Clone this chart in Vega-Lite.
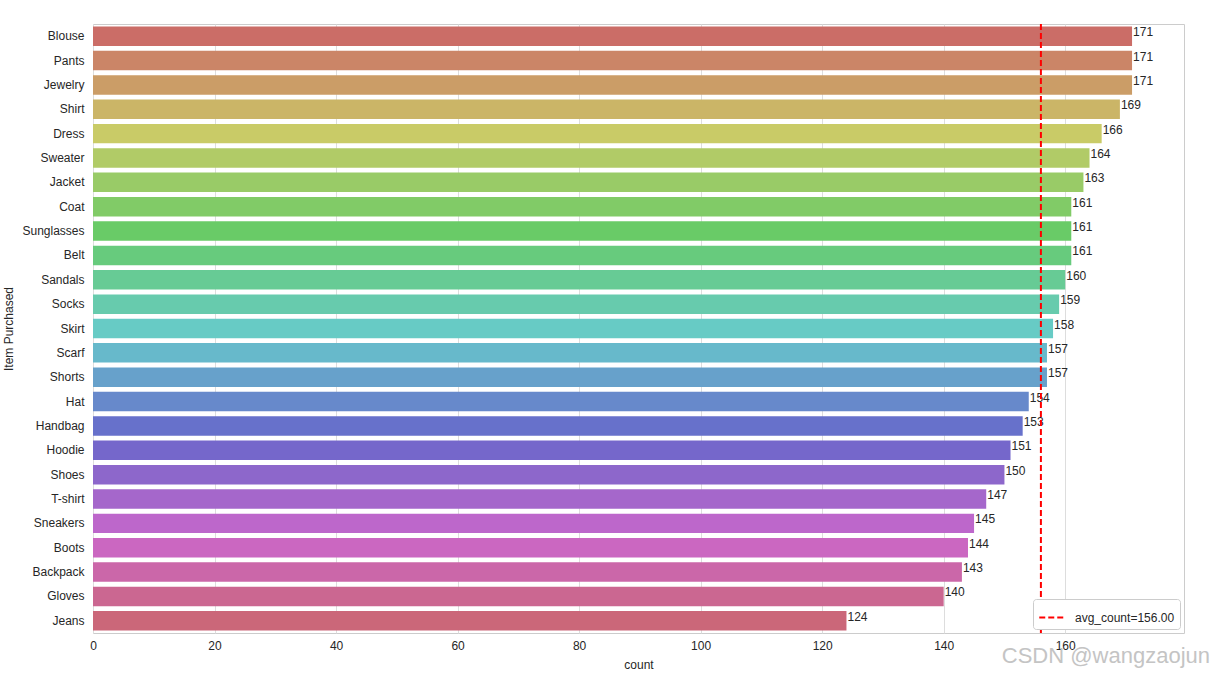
{
  "$schema": "https://vega.github.io/schema/vega-lite/v6.json",
  "width": 1091,
  "height": 609,
  "autosize": {"type": "none"},
  "padding": {"left": 93, "top": 24, "right": 30, "bottom": 40},
  "background": "white",
  "config": {
    "font": "Liberation Sans",
    "view": {"stroke": "#cccccc", "strokeWidth": 1},
    "axis": {
      "labelFont": "Liberation Sans",
      "titleFont": "Liberation Sans",
      "labelColor": "#262626",
      "titleColor": "#262626",
      "labelFontSize": 12,
      "titleFontSize": 12,
      "titleFontWeight": "normal",
      "domain": false,
      "ticks": false,
      "labelFlush": false
    }
  },
  "title": {
    "text": "CSDN @wangzaojun",
    "orient": "bottom",
    "anchor": "end",
    "fontSize": 22,
    "fontWeight": "normal",
    "font": "Liberation Sans",
    "color": "#c4c4c4",
    "dx": 26,
    "dy": -28
  },
  "data": {
    "values": [
      {"item": "Blouse", "count": 171},
      {"item": "Pants", "count": 171},
      {"item": "Jewelry", "count": 171},
      {"item": "Shirt", "count": 169},
      {"item": "Dress", "count": 166},
      {"item": "Sweater", "count": 164},
      {"item": "Jacket", "count": 163},
      {"item": "Coat", "count": 161},
      {"item": "Sunglasses", "count": 161},
      {"item": "Belt", "count": 161},
      {"item": "Sandals", "count": 160},
      {"item": "Socks", "count": 159},
      {"item": "Skirt", "count": 158},
      {"item": "Scarf", "count": 157},
      {"item": "Shorts", "count": 157},
      {"item": "Hat", "count": 154},
      {"item": "Handbag", "count": 153},
      {"item": "Hoodie", "count": 151},
      {"item": "Shoes", "count": 150},
      {"item": "T-shirt", "count": 147},
      {"item": "Sneakers", "count": 145},
      {"item": "Boots", "count": 144},
      {"item": "Backpack", "count": 143},
      {"item": "Gloves", "count": 140},
      {"item": "Jeans", "count": 124}
    ]
  },
  "layer": [
    {
      "mark": {"type": "bar"},
      "encoding": {
        "y": {
          "field": "item",
          "type": "nominal",
          "sort": null,
          "title": "Item Purchased",
          "scale": {"paddingInner": 0.2, "paddingOuter": 0.1},
          "axis": {
            "labelPadding": 9,
            "titleX": -85,
            "titleY": 304.5,
            "titleAngle": 270,
            "titleAlign": "center",
            "titleBaseline": "middle"
          }
        },
        "x": {
          "field": "count",
          "type": "quantitative",
          "title": "count",
          "scale": {"domain": [0, 179.55], "nice": false, "zero": true},
          "axis": {
            "values": [0, 20, 40, 60, 80, 100, 120, 140, 160],
            "grid": true,
            "gridColor": "#dddddd",
            "gridWidth": 1,
            "labelPadding": 7,
            "titleY": 31,
            "titleBaseline": "middle"
          }
        },
        "fill": {
          "field": "item",
          "type": "nominal",
          "legend": null,
          "scale": {
            "domain": ["Blouse", "Pants", "Jewelry", "Shirt", "Dress", "Sweater", "Jacket", "Coat", "Sunglasses", "Belt", "Sandals", "Socks", "Skirt", "Scarf", "Shorts", "Hat", "Handbag", "Hoodie", "Shoes", "T-shirt", "Sneakers", "Boots", "Backpack", "Gloves", "Jeans"],
            "range": [
              "hsl(3.6, 48.75%, 60%)", "hsl(18, 48.75%, 60%)", "hsl(32.4, 48.75%, 60%)", "hsl(46.8, 48.75%, 60%)", "hsl(61.2, 48.75%, 60%)",
              "hsl(75.6, 48.75%, 60%)", "hsl(90, 48.75%, 60%)", "hsl(104.4, 48.75%, 60%)", "hsl(118.8, 48.75%, 60%)", "hsl(133.2, 48.75%, 60%)",
              "hsl(147.6, 48.75%, 60%)", "hsl(162, 48.75%, 60%)", "hsl(176.4, 48.75%, 60%)", "hsl(190.8, 48.75%, 60%)", "hsl(205.2, 48.75%, 60%)",
              "hsl(219.6, 48.75%, 60%)", "hsl(234, 48.75%, 60%)", "hsl(248.4, 48.75%, 60%)", "hsl(262.8, 48.75%, 60%)", "hsl(277.2, 48.75%, 60%)",
              "hsl(291.6, 48.75%, 60%)", "hsl(306, 48.75%, 60%)", "hsl(320.4, 48.75%, 60%)", "hsl(334.8, 48.75%, 60%)", "hsl(349.2, 48.75%, 60%)"
            ]
          }
        }
      }
    },
    {
      "mark": {"type": "text", "align": "left", "baseline": "middle", "dx": 1, "dy": -4, "fontSize": 12, "color": "#262626", "font": "Liberation Sans"},
      "encoding": {
        "y": {"field": "item", "type": "nominal", "sort": null},
        "x": {"field": "count", "type": "quantitative"},
        "text": {"field": "count", "type": "quantitative"}
      }
    },
    {
      "mark": {"type": "rule", "strokeDash": [6, 3], "strokeWidth": 2},
      "encoding": {
        "x": {"aggregate": "mean", "field": "count", "type": "quantitative"},
        "stroke": {
          "datum": "avg_count=156.00",
          "type": "nominal",
          "scale": {"range": ["#ff0000"]},
          "legend": {
            "title": null,
            "orient": "bottom-right",
            "offset": 4,
            "padding": 5,
            "strokeColor": "#cccccc",
            "fillColor": "white",
            "cornerRadius": 3,
            "symbolType": "stroke",
            "symbolSize": 600,
            "symbolDash": [6, 3],
            "symbolStrokeWidth": 2,
            "labelFontSize": 12,
            "labelFont": "Liberation Sans",
            "labelColor": "#262626",
            "labelOffset": 10
          }
        }
      }
    }
  ]
}
